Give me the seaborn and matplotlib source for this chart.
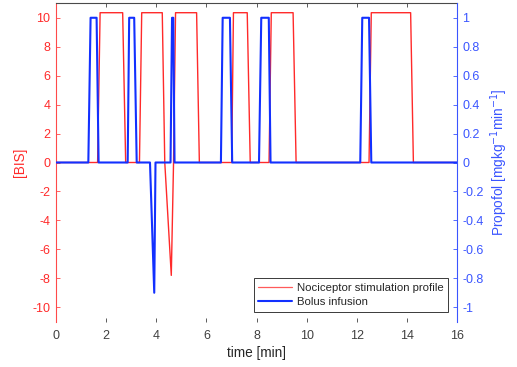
import matplotlib
matplotlib.use("Agg")
import matplotlib.pyplot as plt
import seaborn as sns
import pandas as pd
from matplotlib.lines import Line2D

# --- data ---
noci_time = [0, 1.66, 1.76, 2.66, 2.78, 3.33, 3.42, 4.24, 4.34, 4.60, 4.69, 4.77,
             5.61, 5.72, 7.01, 7.08, 7.63, 7.75, 8.50, 8.59, 9.46, 9.58,
             12.49, 12.58, 14.15, 14.26, 16]
noci_bis = [0, 0, 10.35, 10.35, 0, 0, 10.35, 10.35, 0, -7.8, 0, 10.35,
            10.35, 0, 0, 10.35, 10.35, 0, 0, 10.35, 10.35, 0,
            0, 10.35, 10.35, 0, 0]

bolus_time = [0, 1.29, 1.38, 1.62, 1.70, 2.86, 2.92, 3.12, 3.22, 3.75, 3.92, 3.97,
              4.57, 4.63, 4.68, 4.73, 6.58, 6.65, 6.94, 7.03, 8.10, 8.19, 8.49, 8.56,
              12.14, 12.22, 12.49, 12.58, 16]
bolus_rate = [0, 0, 1, 1, 0, 0, 1, 1, 0, 0, -0.9, 0,
              0, 1, 1, 0, 0, 1, 1, 0, 0, 1, 1, 0,
              0, 1, 1, 0, 0]

x_ticks = [0, 2, 4, 6, 8, 10, 12, 14, 16]
left_ticks = [-10, -8, -6, -4, -2, 0, 2, 4, 6, 8, 10]
right_ticks = [-1, -0.8, -0.6, -0.4, -0.2, 0, 0.2, 0.4, 0.6, 0.8, 1]
right_ticklabels = ["-1", "-0.8", "-0.6", "-0.4", "-0.2", "0", "0.2", "0.4", "0.6", "0.8", "1"]

RED = "#ff2a2a"
BLUE = "#1230ff"
RED_AX = "#ff4a4a"
BLUE_AX = "#3a55ff"

sns.set_style("white")
plt.rcParams["font.family"] = ["Liberation Sans", "DejaVu Sans"]

df_n = pd.DataFrame({"t": noci_time, "v": noci_bis})
df_b = pd.DataFrame({"t": bolus_time, "v": bolus_rate})

fig = plt.figure(figsize=(5.17, 3.67), dpi=100)
ax = fig.add_axes([56 / 517, 1 - 321.7 / 367, (457 - 56) / 517, (321.7 - 3.3) / 367])
ax2 = ax.twinx()

sns.lineplot(data=df_n, x="t", y="v", ax=ax, color=RED, linewidth=1.0,
             estimator=None, sort=False)
sns.lineplot(data=df_b, x="t", y="v", ax=ax2, color=BLUE, linewidth=1.5,
             estimator=None, sort=False)

ax.set_xlim(0, 16)
ax.set_ylim(-11, 11)
ax2.set_ylim(-1.1, 1.1)

ax.set_xticks(x_ticks)
ax.set_xticklabels([str(v) for v in x_ticks])
ax.set_yticks(left_ticks)
ax.set_yticklabels([str(v) for v in left_ticks])
ax2.set_yticks(right_ticks)
ax2.set_yticklabels(right_ticklabels)

fs = 9.0
ax.tick_params(axis="x", direction="in", length=3, width=0.6, colors="#404040",
               labelsize=fs, top=True, bottom=True, pad=6)
ax.tick_params(axis="y", direction="in", length=3, width=0.6, colors=RED_AX,
               labelcolor=RED, labelsize=fs, pad=4)
ax2.tick_params(axis="y", direction="in", length=3, width=0.6, colors=BLUE_AX,
                labelcolor=BLUE_AX, labelsize=fs, pad=4)

for a in (ax, ax2):
    for s in a.spines.values():
        s.set_visible(False)
ax.spines["left"].set_visible(True)
ax.spines["left"].set_color(RED_AX)
ax.spines["left"].set_linewidth(0.8)
ax.spines["top"].set_visible(True)
ax.spines["top"].set_color("#4a4a4a")
ax.spines["top"].set_linewidth(0.8)
ax2.spines["right"].set_visible(True)
ax2.spines["right"].set_color(BLUE_AX)
ax2.spines["right"].set_linewidth(0.8)

ax.set_xlabel("time [min]", fontsize=9.8, color="#262626", labelpad=3)
ax.set_ylabel("[BIS]", fontsize=9.8, color=RED, labelpad=4)
ax2.set_ylabel("Propofol [mgkg$^{-1}$min$^{-1}$]", fontsize=9.8, color=BLUE_AX, labelpad=3)

handles = [Line2D([], [], color="#ff5a5a", linewidth=0.9),
           Line2D([], [], color=BLUE, linewidth=1.5)]
leg = ax2.legend(handles, ["Nociceptor stimulation profile", "Bolus infusion"],
                 loc="lower right", bbox_to_anchor=(0.978, 0.032), fontsize=8.2,
                 frameon=True, fancybox=False, framealpha=1, edgecolor="#3a3a3a",
                 handlelength=3.0, handletextpad=0.4, borderpad=0.4, labelspacing=0.35,
                 borderaxespad=0)
leg.get_frame().set_linewidth(0.7)

fig.savefig("out.png", dpi=100)
